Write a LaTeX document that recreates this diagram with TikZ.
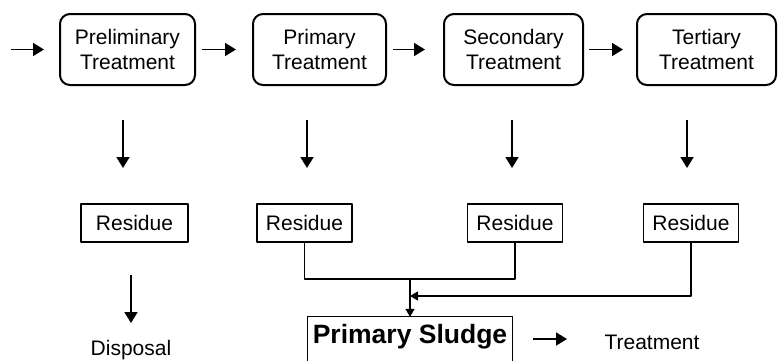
\documentclass[tikz,border=0pt]{standalone}
\usepackage{fontspec}
\setmainfont{Liberation Sans}
\usetikzlibrary{arrows.meta}
\tikzset{
  every picture/.style={line join=round, >={Triangle[length=11pt,width=13pt]}},
  stage/.style={draw, line width=2pt, rounded corners=10pt, align=center,
    font=\fontsize{21}{25}\selectfont, minimum height=71pt, inner sep=0pt},
  residue/.style={draw, line width=1.2pt, font=\fontsize{21}{24}\selectfont,
    minimum height=38pt, minimum width=95pt, inner sep=0pt},
  plaintext/.style={font=\fontsize{21}{24}\selectfont, inner sep=1pt},
  flow/.style={->, line width=1.8pt},
  pipe/.style={line width=1.3pt},
  smalltip/.style={-{Triangle[length=8pt,width=9pt]}},
}

\begin{document}
\begin{tikzpicture}[x=1pt,y=-1pt]
\useasboundingbox (0,0) rectangle (778,360);
% treatment stages
\node[stage, minimum width=135pt] (prelim) at (127.5,49.5) {Preliminary\\Treatment};
\node[stage, minimum width=133pt] (primary) at (319.5,49.5) {Primary\\Treatment};
\node[stage, minimum width=139pt] (secondary) at (513.5,49.5) {Secondary\\Treatment};
\node[stage, minimum width=139pt] (tertiary) at (706.5,49.5) {Tertiary\\Treatment};
\coordinate (feed) at (11,49.5);
\draw[flow, shorten >=15pt] (feed) -- (prelim);
\draw[flow, shorten <=6pt, shorten >=16pt] (prelim) -- (primary);
\draw[flow, shorten <=6pt, shorten >=18pt] (primary) -- (secondary);
\draw[flow, shorten <=5pt, shorten >=13pt] (secondary) -- (tertiary);
% residues
\node[residue, minimum width=107pt] (res1) at (134.5,223) {Residue};
\node[residue] (res2) at (304.5,223) {Residue};
\node[residue] (res3) at (515,223) {Residue};
\node[residue] (res4) at (691,223) {Residue};
\foreach \x/\n in {123/1,307/2,512/3,687/4}{
  \coordinate (out\n) at (\x,120);
  \coordinate (in\n) at (\x,168);
  \draw[flow] (out\n) -- (in\n);
}
% sludge
\node[font=\fontsize{26.5}{30}\selectfont\bfseries, minimum width=204pt,
  minimum height=40pt, inner sep=0pt] (sludge) at (410,337) {Primary Sludge};
\draw[pipe] ([yshift=-6pt]sludge.south west) |- (sludge.north east)
  -- ([yshift=-6pt]sludge.south east);
\coordinate (join) at (sludge.north |- 0,279);
\draw[pipe] (res2.south) |- (join) -| (res3.south);
\draw[pipe, smalltip] (join) -- (sludge.north);
\draw[pipe, smalltip] (res4.south) |- (sludge.north |- 0,296);
% disposal and treatment
\node[plaintext] (disposal) at (131,350) {Disposal};
\node[plaintext] (treat) at (652,342) {Treatment};
\coordinate (dispA) at (131,275);
\coordinate (dispB) at (131,323);
\draw[flow] (dispA) -- (dispB);
\coordinate (treatA) at (533,339);
\coordinate (treatB) at (567,339);
\draw[flow] (treatA) -- (treatB);
\end{tikzpicture}
\end{document}
